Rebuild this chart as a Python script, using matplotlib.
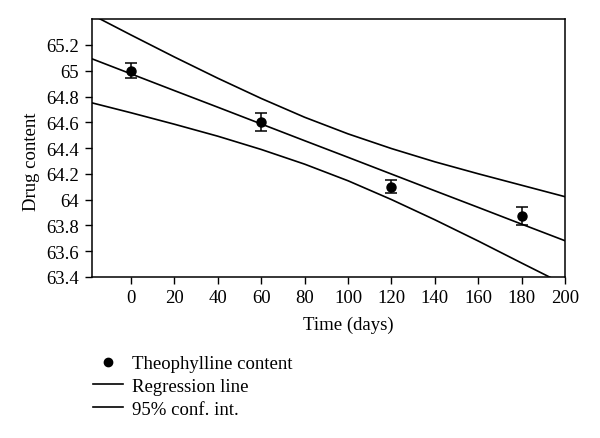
import numpy as np
import matplotlib
matplotlib.use('Agg')
import matplotlib.pyplot as plt
from matplotlib.lines import Line2D

#
# Measured points (read off the picture)
#
days       = [0, 60, 120, 180]
content    = [65.00, 64.60, 64.10, 63.87]
content_sd = [0.06, 0.07, 0.05, 0.07]
#
# Regression line and 95% band, read at these times
#
t_line   = [-18, 0, 20, 40, 60, 80, 100, 120, 140, 160, 180, 200]
reg_line = [65.093, 64.976, 64.846, 64.717, 64.587, 64.457, 64.328, 64.198, 64.068, 63.939, 63.809, 63.680]
ci_upper = [65.435, 65.278, 65.107, 64.942, 64.785, 64.639, 64.510, 64.396, 64.293, 64.200, 64.111, 64.022]
ci_lower = [64.751, 64.674, 64.585, 64.492, 64.389, 64.275, 64.146, 64.000, 63.843, 63.678, 63.507, 63.338]

xticks = [0, 20, 40, 60, 80, 100, 120, 140, 160, 180, 200]
yticks = [63.4, 63.6, 63.8, 64, 64.2, 64.4, 64.6, 64.8, 65, 65.2]
ylabels = ['63.4', '63.6', '63.8', '64', '64.2', '64.4', '64.6', '64.8', '65', '65.2']

plt.rcParams['font.family'] = ['Liberation Serif', 'DejaVu Serif']
plt.rcParams['font.size'] = 13.5

fig = plt.figure(figsize=(6.0, 4.39), dpi=100)
ax = fig.add_axes([0.153, 0.367, 0.789, 0.587])

lw = 1.2
ax.plot(t_line, reg_line, color='k', lw=lw)
ax.plot(t_line, ci_upper, color='k', lw=lw)
ax.plot(t_line, ci_lower, color='k', lw=lw)
ax.errorbar(days, content, yerr=content_sd, fmt='o', color='k', ms=6.5,
            capsize=4, elinewidth=1.1, capthick=1.1)

ax.set_xlim(-18, 200)
ax.set_ylim(63.4, 65.4)
ax.set_xticks(xticks)
ax.set_yticks(yticks)
ax.set_yticklabels(ylabels)
ax.tick_params(direction='out', length=5, width=1, pad=4)
for s in ax.spines.values():
    s.set_linewidth(1.1)

# labels sit on the middle of the tick range, not the axes box
ax.set_xlabel('Time (days)')
ax.xaxis.set_label_coords((100 + 18) / 218, -0.152)
ax.set_ylabel('Drug content')
ax.yaxis.set_label_coords(-0.109, (64.3 - 63.4) / 2.0)

#
# Legend below the axes
#
handles = [Line2D([], [], ls='none', marker='o', color='k', ms=6),
           Line2D([], [], color='k', lw=lw),
           Line2D([], [], color='k', lw=lw)]
labels = ['Theophylline content', 'Regression line', '95% conf. int.']
fig.legend(handles, labels, loc='upper left', bbox_to_anchor=(0.155, 0.189),
           frameon=False, handlelength=1.6, handletextpad=0.48,
           labelspacing=0.3, borderpad=0, borderaxespad=0)

fig.savefig('out.png', dpi=100)
